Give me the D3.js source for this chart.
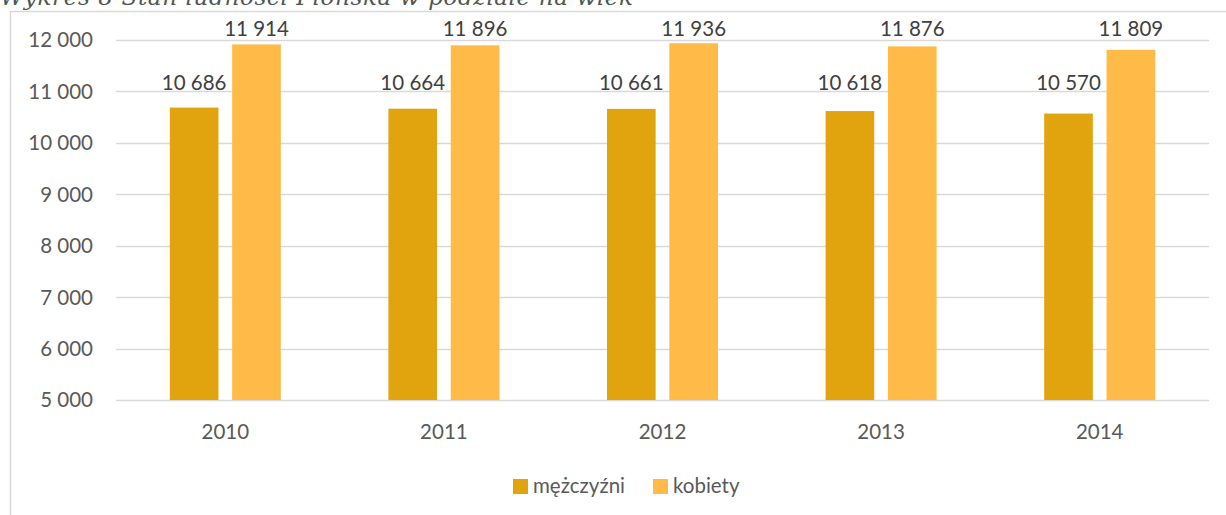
<!DOCTYPE html>
<html>
<head>
<meta charset="utf-8">
<script src="https://cdn.jsdelivr.net/npm/d3@7"></script>
<style>
  body { margin: 0; background: #fff; }
  svg text { font-family: Lato, "Open Sans", sans-serif; fill: #595959; }
</style>
</head>
<body>
<div id="chart"></div>
<script>
const years = ['2010', '2011', '2012', '2013', '2014'];
const seriesNames = ['mężczyźni', 'kobiety'];
const men = [10686, 10664, 10661, 10618, 10570];
const women = [11914, 11896, 11936, 11876, 11809];
const yTicks = [5000, 6000, 7000, 8000, 9000, 10000, 11000, 12000];
const colors = ['#E1A40F', '#FFBA47'];

const W = 1226, H = 515;
const values = [men, women];
// label gap above the tallest bar of each series (labels share one baseline per series)
const labelGap = [18, 7];

let svg = d3.select("#chart")
    .append("svg")
    .attr("width", W)
    .attr("height", H);

// chart frame (only top and left edges fall inside the picture)
svg.append("path")
    .attr("d", "M10.5,515 V11.5 H1226")
    .attr("fill", "none")
    .attr("stroke", "#d9d9d9")
    .attr("stroke-width", 1.5);

// caption, clipped by the top of the page
svg.append("text")
    .attr("x", 0)
    .attr("y", 5)
    .attr("textLength", 633)
    .style("font-family", "'DejaVu Serif', serif")
    .style("font-style", "italic")
    .style("font-size", "23px")
    .style("fill", "#505653")
    .text("Wykres 8 Stan ludności Płońska w podziale na wiek");

let x0 = d3.scaleBand()
    .domain(years)
    .range([116, 1209]);

let x1 = d3.scaleBand()
    .domain(seriesNames)
    .range([(x0.bandwidth() - 111) / 2, (x0.bandwidth() + 111) / 2])
    .paddingInner(0.22);

let y = d3.scaleLinear()
    .domain([5000, 12000])
    .range([400, 40]);

const fmt = v => d3.format(",")(v).replace(/,/g, "\u00a0");

// gridlines
svg.append("g")
    .selectAll("line")
    .data(yTicks)
    .enter()
    .append("line")
    .attr("x1", 116)
    .attr("x2", 1209)
    .attr("y1", d => Math.round(y(d)) + 0.5)
    .attr("y2", d => Math.round(y(d)) + 0.5)
    .attr("stroke", "#d9d9d9")
    .attr("stroke-width", 1.3);

// y axis labels
svg.append("g")
    .selectAll("text")
    .data(yTicks)
    .enter()
    .append("text")
    .attr("x", 93)
    .attr("y", d => y(d))
    .attr("dy", "0.36em")
    .attr("text-anchor", "end")
    .style("font-size", "20.5px")
    .text(fmt);

// x axis labels
svg.append("g")
    .selectAll("text")
    .data(years)
    .enter()
    .append("text")
    .attr("x", d => x0(d) + x0.bandwidth() / 2)
    .attr("y", 439)
    .attr("text-anchor", "middle")
    .style("font-size", "20.5px")
    .text(d => d);

// bars + value labels
seriesNames.forEach((s, si) => {
    let g = svg.append("g");
    g.selectAll("rect")
        .data(values[si])
        .enter()
        .append("rect")
        .attr("x", (d, i) => x0(years[i]) + x1(s))
        .attr("y", d => y(d))
        .attr("width", x1.bandwidth())
        .attr("height", d => y(5000) - y(d))
        .attr("fill", colors[si]);
    let labelY = y(d3.max(values[si])) - labelGap[si];
    g.selectAll("text")
        .data(values[si])
        .enter()
        .append("text")
        .attr("x", (d, i) => x0(years[i]) + x1(s) + x1.bandwidth() / 2)
        .attr("y", labelY)
        .attr("text-anchor", "middle")
        .style("font-size", "20.5px")
        .style("fill", "#404040")
        .text(fmt);
});

// legend
let legend = svg.append("g")
    .selectAll("g")
    .data(seriesNames)
    .enter()
    .append("g")
    .attr("transform", (d, i) => `translate(${i === 0 ? 513 : 653},479)`);
legend.append("rect")
    .attr("width", 15)
    .attr("height", 15)
    .attr("fill", (d, i) => colors[i]);
legend.append("text")
    .attr("x", 20)
    .attr("y", 14)
    .style("font-size", "20.5px")
    .text(d => d);
</script>
</body>
</html>
